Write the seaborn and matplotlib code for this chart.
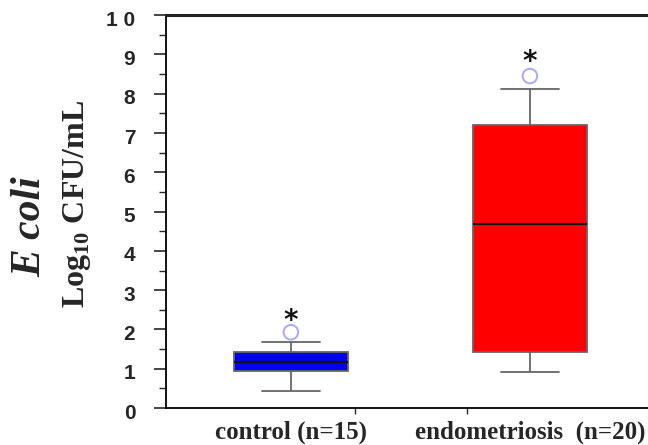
import pandas as pd
import numpy as np
import seaborn as sns
import matplotlib.pyplot as plt
from matplotlib.transforms import ScaledTranslation

# summary values (log10 CFU/mL)
groups = ["control (n=15)", "endometriosis  (n=20)"]
whisker_low = [0.43, 0.92]
q1 = [0.94, 1.42]
median = [1.17, 4.68]
q3 = [1.42, 7.20]
whisker_high = [1.68, 8.12]
outliers = [1.93, 8.45]
star_y = [2.22, 8.8]
box_colors = ["#0000f0", "#ff0000"]

# five-number rows per group -> seaborn quartiles match exactly with whis=(0,100)
rows = []
for i, g in enumerate(groups):
    for v in [whisker_low[i], q1[i], median[i], q3[i], whisker_high[i]]:
        rows.append({"group": g, "value": v})
df = pd.DataFrame(rows)

sns.set_style("ticks")
plt.rcParams['mathtext.fontset'] = 'custom'
plt.rcParams['mathtext.rm'] = 'Liberation Serif:bold'

fig = plt.figure(figsize=(6.48, 4.45), dpi=100)
ax = fig.add_axes([0.256, 0.083, 0.744, 0.883])

sns.boxplot(data=df, x="group", y="value", hue="group", palette=box_colors,
            legend=False, whis=(0, 100), width=0.48, saturation=1, ax=ax,
            linecolor="#666666", linewidth=1.3,
            medianprops={"color": "#111111", "linewidth": 1.6})

# outliers
out_df = pd.DataFrame({"group": groups, "value": outliers})
sns.scatterplot(data=out_df, x="group", y="value", marker="o", s=110,
                facecolor="none", edgecolor="#a8a8ff", linewidth=1.4, ax=ax)

for i, y in enumerate(star_y):
    ax.text(i, y, "*", ha="center", va="center", fontsize=20,
            fontweight="bold", color="#111111", family="DejaVu Sans")

ax.set_xlim(-0.523, 1.494)
ax.set_ylim(0, 10)
ax.set_yticks(np.arange(0, 11, 1))
ax.set_yticks(np.arange(0.5, 10, 1), minor=True)
ax.set_yticklabels([str(v) for v in range(0, 10)] + ["1 0"],
                   fontsize=15, fontweight="bold", family="Liberation Sans")
ax.tick_params(axis="y", which="major", length=9, width=1.2, pad=13)
ax.tick_params(axis="y", which="minor", length=5, width=1.0)
# labels sit a little below their ticks in the original
shift = ScaledTranslation(0, -3 / 100, fig.dpi_scale_trans)
for lab in ax.get_yticklabels():
    lab.set_transform(lab.get_transform() + shift)

ax.set_xticks([0.268, 0.736])
ax.set_xticklabels(["", ""])
ax.tick_params(axis="x", length=4, width=1.0)
for i, g in enumerate(groups):
    ax.text(i, -0.62, g, ha="center", va="center", fontsize=18,
            fontweight="bold", family="Liberation Serif",
            transform=ax.transData, clip_on=False)

ax.set_xlabel("")
ax.set_ylabel("")
ax.spines["right"].set_visible(False)
ax.spines["top"].set_linewidth(2.2)
ax.spines["top"].set_color("#222222")
ax.spines["left"].set_linewidth(1.3)
ax.spines["bottom"].set_linewidth(1.3)
ax.spines["left"].set_color("black")
ax.spines["bottom"].set_color("black")

fig.text(0.047, 0.49, "E coli", rotation=90, ha="center", va="center",
         fontsize=30, fontweight="bold", fontstyle="italic",
         family="Liberation Serif")
fig.text(0.119, 0.542, r"Log$_{\mathregular{10}}$ CFU/mL", rotation=90,
         ha="center", va="center", fontsize=23, fontweight="bold",
         family="Liberation Serif")

fig.savefig("out.png", dpi=100)
